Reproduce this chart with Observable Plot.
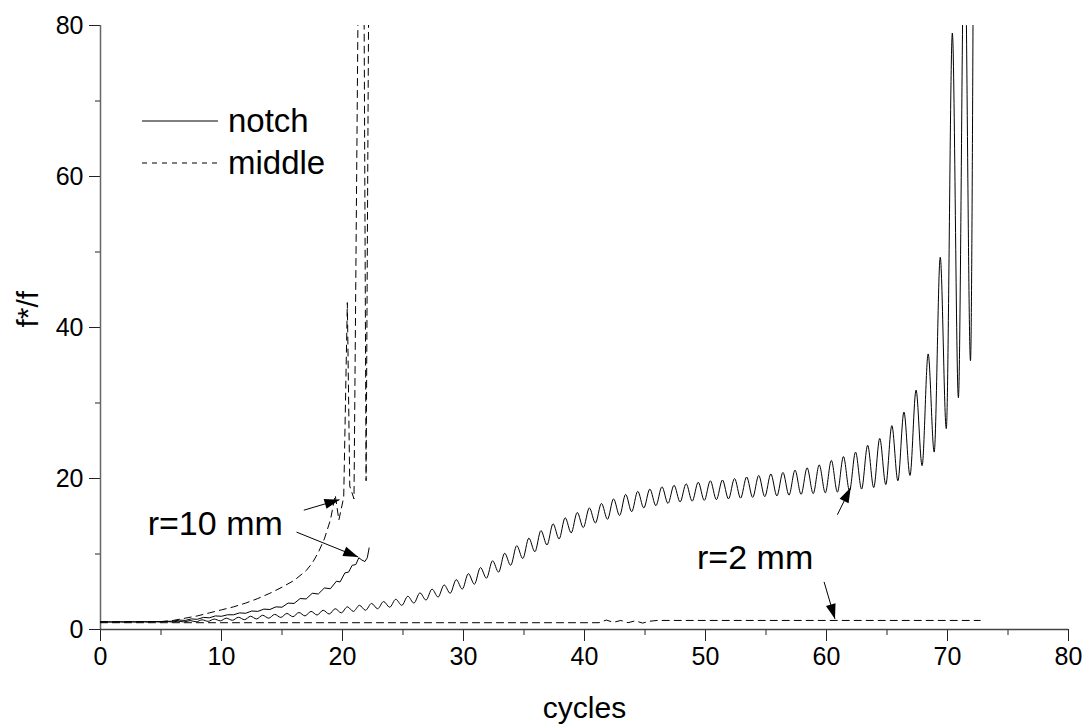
<!DOCTYPE html>
<html><head><meta charset="utf-8">
<script src="https://cdn.jsdelivr.net/npm/d3@7"></script>
<script src="https://cdn.jsdelivr.net/npm/@observablehq/plot@0.6"></script>
<style>
body{margin:0;background:#fff;}
#wrap{position:relative;width:1086px;height:727px;}
#legend{position:absolute;left:142px;top:100px;font-family:"Liberation Sans",Arial,sans-serif;font-size:33px;color:#000;}
.row{display:flex;align-items:center;height:42px;}
.row svg{margin-right:10px;}
</style></head><body><div id="wrap"></div>
<script>
// ---- data ----
const xTicks = [0,10,20,30,40,50,60,70,80];
const xMinor = [5,15,25,35,45,55,65,75];
const yTicks = [0,20,40,60,80];
const yMinor = [10,30,50,70];

// r=2 mm, notch: per-cycle peak (at n+0.4) and trough (at n+0.9) values, cycles 0..71
const r2NotchPeak = [1.05,1.05,1.05,1.05,1.06,1.07,1.1,1.18,1.28,1.38,
  1.5,1.62,1.75,1.88,2.0,2.12,2.25,2.4,2.55,2.75,
  3.0,3.2,3.45,3.7,4.0,4.4,4.85,5.35,5.9,6.6,
  7.4,8.2,9.1,10.1,11.1,12.1,13.1,14.0,14.8,15.5,
  16.1,16.7,17.3,17.9,18.3,18.6,18.9,19.1,19.3,19.5,
  19.7,19.8,20.0,20.2,20.4,20.6,20.8,21.1,21.4,21.8,
  22.4,22.9,23.5,24.4,25.3,27.0,28.8,31.7,36.5,49.3,
  79.0,95];
const r2NotchTrough = [0.98,0.98,0.98,0.98,0.98,0.99,1.0,1.02,1.08,1.15,
  1.22,1.3,1.4,1.5,1.6,1.7,1.8,1.92,2.05,2.2,
  2.4,2.55,2.75,2.95,3.2,3.5,3.9,4.3,4.8,5.35,
  6.0,6.8,7.6,8.5,9.4,10.3,11.2,12.0,12.8,13.5,
  14.1,14.6,15.1,15.6,16.1,16.4,16.7,16.9,17.0,17.1,
  17.2,17.3,17.4,17.5,17.6,17.7,17.8,17.9,18.0,18.1,
  18.2,18.4,18.6,18.8,19.2,19.7,20.4,21.7,23.5,26.6,
  30.7,35.6];
const r2NotchEnd = {x:72.15, y:95};

// r=2 mm, middle
const r2MiddleX = [0,41.2,41.8,42.4,43.0,43.6,44.2,44.8,45.4,46.0,72.7];
const r2MiddleY = [0.9,0.9,1.25,0.95,1.2,0.9,1.15,0.85,1.1,1.2,1.2];

// r=10 mm, notch
const r10NotchX = [0,3,5,6,6.5,7,7.5,8,8.5,9,9.5,10,10.5,11,11.5,12,12.5,13,13.5,14,14.5,15,15.5,16,16.5,17,17.5,18,18.5,19,19.5,19.8,20.2,20.5,20.8,21.1,21.35,21.6,21.85,22.05,22.2];
const r10NotchY = [1,1.02,1.05,1.1,1.25,1.2,1.4,1.35,1.6,1.55,1.8,1.75,1.95,1.95,2.2,2.15,2.45,2.4,2.7,2.65,3.0,2.95,3.5,3.45,4.1,4.05,4.8,4.7,5.5,5.4,6.4,6.3,7.5,7.6,8.5,8.6,9.5,9.2,9.0,9.5,10.8];

// r=10 mm, middle
const r10MiddleX = [0,5,6,7,8,9,10,11,12,13,14,15,16,17,17.5,18,18.5,19,19.4,19.7,20.1,20.4,20.6,20.95,21.35,21.75,21.95,22.2];
const r10MiddleY = [1,1.05,1.2,1.5,1.8,2.2,2.6,3.0,3.5,4.1,4.8,5.6,6.5,7.8,8.8,10.2,12.0,14.5,17.8,14.5,17.5,43.3,19,17.3,95,95,19.7,95];

// annotations
const labels = [
  {text:"r=10 mm", x:3.9, y:14.0},
  {text:"r=2 mm", x:49.3, y:9.4}
];
const arrows = [
  {x1:16.8, y1:15.8, x2:19.75, y2:17.2},
  {x1:16.2, y1:12.9, x2:21.3, y2:9.6},
  {x1:60.9, y1:15.2, x2:62.0, y2:18.8},
  {x1:59.8, y1:6.3, x2:60.7, y2:1.4}
];

// ---- build tables ----
const notchR2 = [{x:0, y:1}];
r2NotchPeak.forEach((p, i) => {
  notchR2.push({x:i+0.4, y:p});
  notchR2.push({x:i+0.9, y:r2NotchTrough[i]});
});
notchR2.push(r2NotchEnd);
const middleR2 = r2MiddleX.map((x,i)=>({x, y:r2MiddleY[i]}));
const notchR10 = r10NotchX.map((x,i)=>({x, y:r10NotchY[i]}));
const middleR10 = r10MiddleX.map((x,i)=>({x, y:r10MiddleY[i]}));

const font = '"Liberation Sans", Arial, sans-serif';
const base = {
  width:1086, height:727,
  marginLeft:100, marginRight:18, marginTop:25, marginBottom:98,
  style:{fontFamily:font, fontSize:"25px", background:"#fff", color:"#000"},
  x:{domain:[0,80]},
  y:{domain:[0,80]}
};
// first pass: obtain the scales to orient the arrowheads in screen space
const probe = Plot.plot({...base, marks:[Plot.frame()]});
const sx = probe.scale("x"), sy = probe.scale("y");
const heads = arrows.map(a => {
  const dx = sx.apply(a.x2) - sx.apply(a.x1);
  const dy = sy.apply(a.y2) - sy.apply(a.y1);
  return {x:a.x2, y:a.y2, angle: Math.atan2(dx, -dy) * 180 / Math.PI};
});
// narrow filled arrowhead, tip at origin pointing "up"
const headSymbol = {draw(ctx){ ctx.moveTo(0,0); ctx.lineTo(-5,15); ctx.lineTo(5,15); ctx.closePath(); }};

const chart = Plot.plot({
  ...base,
  marks:[
    Plot.axisX({ticks:xTicks, tickSize:12, tickPadding:6, label:null, stroke:"#222"}),
    Plot.axisX({ticks:xMinor, tickSize:6, tickFormat:()=>"", label:null, stroke:"#222"}),
    Plot.axisY({ticks:yTicks, tickSize:11, tickPadding:6, label:null, stroke:"#222"}),
    Plot.axisY({ticks:yMinor, tickSize:5, tickFormat:()=>"", label:null, stroke:"#222"}),
    Plot.ruleX([0], {stroke:"#666", strokeWidth:1.5}),
    Plot.ruleY([0], {stroke:"#444", strokeWidth:1.5}),
    Plot.line(middleR2, {x:"x", y:"y", stroke:"#000", strokeWidth:1, strokeDasharray:"7,5", clip:true}),
    Plot.line(middleR10, {x:"x", y:"y", stroke:"#000", strokeWidth:1, strokeDasharray:"7,5", clip:true}),
    Plot.line(notchR10, {x:"x", y:"y", stroke:"#000", strokeWidth:1, clip:true}),
    Plot.line(notchR2, {x:"x", y:"y", stroke:"#000", strokeWidth:1, curve:"monotone-x", clip:true}),
    Plot.link(arrows, {x1:"x1", y1:"y1", x2:"x2", y2:"y2", stroke:"#000", strokeWidth:1}),
    Plot.dot(heads, {x:"x", y:"y", rotate:"angle", symbol:headSymbol, fill:"#000", stroke:"none", r:5}),
    Plot.text(labels, {x:"x", y:"y", text:"text", textAnchor:"start", fontSize:34, fill:"#000"}),
    Plot.text(["cycles"], {frameAnchor:"bottom", dy:88, fontSize:30, fill:"#000"}),
    Plot.text(["f*/f"], {frameAnchor:"left", dx:-72, rotate:-90, fontSize:30, fill:"#000"})
  ]
});
const wrap = document.getElementById("wrap");
wrap.appendChild(chart);
const legend = document.createElement("div");
legend.id = "legend";
legend.innerHTML = `
<div class="row"><svg width="76" height="4"><line x1="0" x2="76" y1="2" y2="2" stroke="#000" stroke-width="1"/></svg><span>notch</span></div>
<div class="row"><svg width="76" height="4"><line x1="0" x2="76" y1="2" y2="2" stroke="#000" stroke-width="1" stroke-dasharray="5,5"/></svg><span>middle</span></div>`;
wrap.appendChild(legend);
</script></body></html>
